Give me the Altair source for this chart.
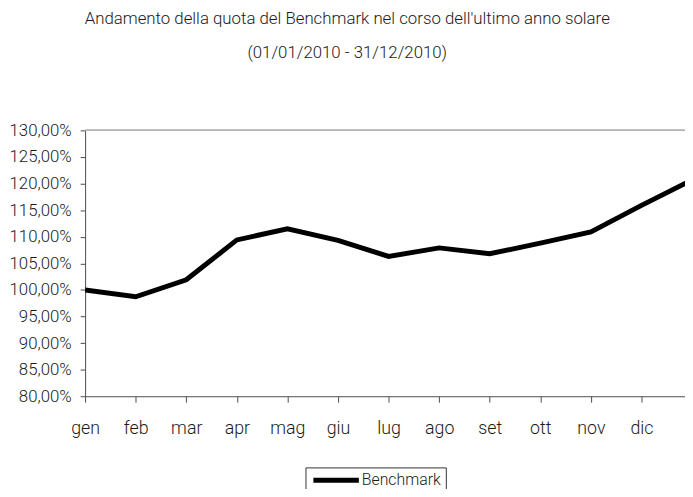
import altair as alt
import pandas as pd

months = ["gen", "feb", "mar", "apr", "mag", "giu", "lug", "ago", "set", "ott", "nov", "dic"]
# 13 points: one per month plus the year-end value (drawn off the right edge, as in the source)
values = [100.0, 98.7, 101.9, 109.4, 111.5, 109.3, 106.3, 107.9, 106.8, 108.8, 110.9, 115.9, 120.7]
series_name = "Benchmark"
y_ticks = [80, 85, 90, 95, 100, 105, 110, 115, 120, 125, 130]

df = pd.DataFrame({"idx": list(range(len(values))), "value": values, "serie": series_name})

FONT = "Roboto, Open Sans, sans-serif"
FW = 300
AXC = "#4d4d4d"
TXT = "#1a1a1a"

month_expr = "[" + ",".join("'%s'" % m for m in months) + "][datum.value]"

y_scale = alt.Scale(domain=[80, 130], nice=False, zero=False)
y_axis = alt.Axis(values=y_ticks,
                  labelExpr="replace(format(datum.value, '.2f'), '.', ',') + '%'",
                  title=None, grid=False, domainColor=AXC, tickColor=AXC, tickSize=5,
                  labelFont=FONT, labelFontWeight=FW, labelFontSize=17, labelColor=TXT,
                  labelPadding=9, labelOverlap=False, labelBound=False, labelFlush=False)

line = alt.Chart(df).mark_line(strokeWidth=5, clip=True, strokeJoin="miter").encode(
    x=alt.X("idx:Q",
            scale=alt.Scale(domain=[0, 11.86], nice=False, zero=False),
            axis=alt.Axis(values=list(range(len(months))), labelExpr=month_expr, title=None,
                          grid=False, domainColor=AXC, tickColor=AXC, tickSize=6,
                          labelFont=FONT, labelFontWeight=FW, labelFontSize=18, labelColor=TXT,
                          labelPadding=18, labelFlush=False, labelOverlap=False,
                          labelBound=False)),
    y=alt.Y("value:Q", scale=y_scale, axis=y_axis),
    color=alt.Color("serie:N", scale=alt.Scale(range=["#000000"]),
                    legend=alt.Legend(title=None, orient="none", legendX=223, legendY=341,
                                      symbolType="M-1,0H8.2", symbolSize=100,
                                      symbolStrokeWidth=5, symbolStrokeColor="#000000",
                                      strokeColor="#333333", padding=5,
                                      labelFont=FONT, labelFontWeight=FW, labelFontSize=16,
                                      labelColor=TXT, labelOffset=36)),
)

top_rule = alt.Chart(df).mark_rule(color="#b3b3b3", strokeWidth=1).encode(
    y=alt.Y(datum=130, type="quantitative", scale=y_scale, axis=y_axis))

chart = alt.layer(line, top_rule).properties(
    width=607,
    height=269,
    padding={"left": 78, "top": 121, "right": 0, "bottom": 91},
    autosize=alt.AutoSizeParams(type="none"),
    title=alt.TitleParams(
        text=["Andamento della quota del Benchmark nel corso dell'ultimo anno solare",
              "(01/01/2010 - 31/12/2010)"],
        anchor="middle", frame="bounds", font=FONT, fontSize=17, fontWeight=FW,
        color=TXT, lineHeight=35, offset=60),
).configure_view(stroke=None)

chart.save("out.html", embed_options={"renderer": "svg", "actions": False})
